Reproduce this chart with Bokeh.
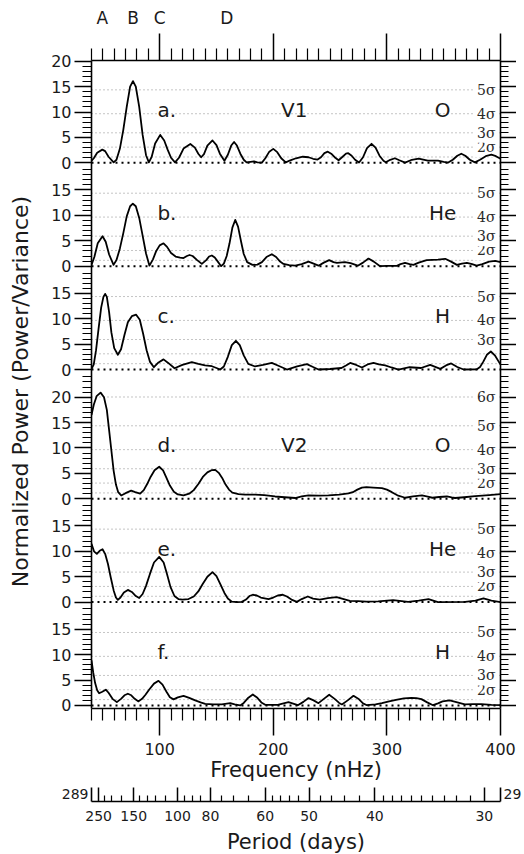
from bokeh.plotting import figure
from bokeh.layouts import column
from bokeh.models import Range1d, LinearAxis, FixedTicker
from bokeh.core.properties import value
from bokeh.embed import file_html
from bokeh.resources import INLINE

# ---------------- data (frequency in nHz, normalized power) ----------------
freq_a = [40, 42, 45, 49.5, 52, 55, 59.5, 62, 65, 68, 71, 74, 76.5, 79, 82, 85, 88, 90.5, 93, 96,
          100.5, 104, 107, 110, 113.5, 117, 121, 127, 131, 134, 136.5, 139, 142, 146.5, 150, 153,
          157, 160, 163, 165.5, 168, 171, 174, 176.5, 180, 183, 186, 190, 193, 196.5, 200, 203.5,
          207, 211, 215, 220, 226, 231, 235, 239, 242, 245, 248, 251, 254, 257.5, 261, 264, 266,
          269, 272, 275.5, 279, 282.5, 286.5, 290, 293.5, 297, 299, 303, 307, 311, 316, 322, 328,
          336, 345, 350, 354, 358, 362, 365.5, 369, 373, 377.5, 382, 387, 392, 396, 400]
power_a = [0.4, 0.9, 2.0, 2.6, 2.3, 1.2, 0.1, 0.6, 2.8, 6.5, 11.0, 15.0, 16.1, 15.0, 11.0, 5.5, 1.5,
           0.1, 1.2, 3.8, 5.5, 4.4, 2.6, 1.0, 0.1, 1.0, 2.8, 3.7, 3.0, 1.8, 1.1, 1.7, 3.4, 4.4,
           3.5, 1.8, 0.4, 1.6, 3.4, 4.1, 3.4, 1.8, 0.6, 0.1, 0.2, 0.3, 0.1, 0.05, 0.9, 2.2,
           2.75, 2.1, 0.9, 0.1, 0.5, 0.9, 1.2, 1.1, 0.8, 0.65, 1.1, 1.9, 2.2, 1.8, 1.1, 0.5,
           1.2, 1.8, 1.9, 1.4, 0.6, 0.05, 1.1, 2.9, 3.75, 3.0, 1.4, 0.4, 0.1, 0.6, 0.9, 0.5,
           0.05, 0.6, 0.85, 0.45, 0.45, 0.2, 0.05, 0.6, 1.4, 1.8, 1.4, 0.6, 0.1, 0.6, 1.3, 1.6,
           1.3, 0.8]

freq_b = [40, 42.5, 45.5, 49.7, 52.5, 55.5, 59.4, 62, 65, 68, 71, 74, 76.4, 79, 82, 85, 88, 91, 94,
          97, 100, 103.4, 106.5, 110, 114, 118, 121, 124, 126.3, 129, 133, 137.1, 141, 143.5,
          145.9, 148.5, 151.5, 154.1, 156.5, 159, 161.5, 164, 166.5, 169, 171.5, 174, 177, 181.7,
          186, 190, 194, 198.7, 202.5, 206, 209, 214, 219.3, 225, 231, 235.5, 239.8, 244.5, 249.2,
          253, 256, 263, 268, 274.4, 279, 283.8, 288.5, 294, 300, 308.8, 312, 316, 320, 323.4, 328,
          335, 345, 351.3, 356.5, 361.6, 366, 370.4, 375, 379, 384, 390, 395.3, 400]
power_b = [0.25, 1.8, 4.5, 5.9, 4.8, 2.3, 0.25, 1.2, 3.5, 6.5, 9.8, 11.8, 12.3, 11.8, 9.5, 6.0, 2.5,
           0.1, 1.3, 3.0, 4.1, 4.5, 3.8, 2.6, 1.9, 1.7, 1.6, 2.0, 2.2, 2.0, 1.2, 0.45, 1.2, 1.9,
           2.1, 1.7, 0.8, 0.0, 0.5, 2.0, 4.5, 7.6, 9.1, 7.8, 5.0, 2.4, 0.8, 0.25,
           0.3, 0.8, 1.8, 2.35, 1.8, 0.9, 0.45, 0.2, 0.1, 0.4, 0.9, 0.5, 0.1, 0.7, 1.2,
           0.8, 0.65, 0.8, 0.6, 0.1, 0.7, 1.5, 0.9, 0.0, 0.05, 0.05, 0.4, 0.65, 0.4, 0.25, 0.7,
           1.2, 1.3, 1.45, 0.9, 0.25, 0.5, 0.65, 0.4, 0.1, 0.4, 0.9, 1.05, 0.8]

freq_c = [40, 42, 44, 46.2, 48.5, 50.5, 52, 53.5, 55.5, 57.5, 60, 63.2, 66, 69, 72, 75.5, 79.3,
          82.5, 85.5, 88.5, 91.5, 94.9, 99, 103.4, 107.5, 113.1, 120, 128.3, 134, 140, 146, 150,
          153.3, 156.5, 160, 163.5, 167.1, 170.5, 174, 178, 184, 191, 198.7, 205, 212, 221, 229.6,
          235, 239.8, 250, 260, 264, 267.7, 273, 278, 283, 288.2, 293, 298.5, 304, 310.2, 320, 330,
          338.1, 347, 352, 356.6, 362, 367.5, 379.2, 382, 385, 388, 391.5, 395, 398, 400]
power_c = [0.1, 1.0, 3.8, 8.0, 12.2, 14.3, 14.9, 14.3, 11.3, 7.3, 4.2, 2.9, 4.0, 6.8, 9.3, 10.5, 10.8,
           9.8, 7.0, 3.8, 1.5, 0.45, 1.4, 2.0, 1.3, 0.25, 0.9, 1.45, 1.1, 0.8, 0.65, 0.3,
           0.0, 0.6, 2.5, 4.8, 5.65, 4.8, 2.8, 1.1, 0.6, 0.9, 1.3, 0.7, 0.0, 0.6, 1.05,
           0.5, 0.0, 0.1, 0.3, 0.8, 1.3, 0.9, 0.4, 1.0, 1.3, 1.0, 0.8, 0.4, 0.0, 0.45, 0.3,
           0.9, 0.13, 0.8, 1.2, 0.5, 0.0, 0.05, 0.5, 1.6, 2.9, 3.55, 2.8, 1.7, 1.0]

freq_d = [40, 42, 44.5, 48, 51, 53.5, 55.5, 57.5, 59.5, 61.5, 63.5, 66.1, 70, 74.9, 78.5, 82.8, 86,
          89, 92, 95.5, 99.6, 103, 106, 109, 112.5, 116, 121, 126, 130, 134.2, 138, 142, 146, 148.9,
          152, 155, 158, 161, 164, 169.4, 175, 184, 192, 201.6, 210, 219.3, 225, 231, 240, 248.6,
          258, 266.2, 270, 274, 278, 282, 288, 295.6, 300, 304.4, 310, 316.1, 323, 330.8, 336, 340,
          346, 352.8, 357, 360, 368, 377.7, 390, 400]
power_d = [16.5, 18.5, 20.2, 20.9, 20.0, 17.5, 13.5, 9.5, 5.5, 2.8, 1.3, 0.65, 1.1, 1.6, 1.3, 1.0,
           1.7, 2.9, 4.3, 5.6, 6.3, 5.6, 4.1, 2.6, 1.4, 0.85, 0.65, 1.0, 1.7, 2.95, 4.3, 5.2,
           5.65, 5.7, 5.1, 4.1, 2.8, 1.8, 1.2, 0.9, 0.8, 0.8, 0.7, 0.45, 0.3, 0.15, 0.45, 0.65,
           0.6, 0.65, 0.8, 1.05, 1.3, 1.8, 2.2, 2.3, 2.2, 2.1, 1.8, 1.3, 0.6, 0.2, 0.45, 0.65,
           0.4, 0.2, 0.35, 0.45, 0.25, 0.15, 0.3, 0.5, 0.7, 0.9]

freq_e = [40, 42.2, 44.7, 47.2, 49.7, 52, 54.5, 57, 59.5, 61.5, 63.2, 65.5, 68.5, 72, 75.5, 79, 82,
          85, 88, 91.5, 95, 99.6, 103.5, 106.5, 109.5, 113, 116.5, 120, 125.4, 130, 134, 138, 142,
          146.5, 150, 153.5, 157, 160, 163.5, 168, 172.3, 176, 179, 182, 185.5, 189, 195.8, 200,
          204, 208.4, 212, 216, 220.8, 225, 230.4, 235, 241, 248, 255.8, 262, 267.4, 274.7, 282,
          292.3, 305.5, 318.7, 328, 336.6, 345, 368.9, 378, 385, 392, 400]
power_e = [11.5, 10.0, 9.5, 10.1, 10.4, 9.5, 7.5, 4.8, 2.3, 0.9, 0.45, 0.9, 1.9, 2.4, 2.0, 1.2, 0.8,
           1.6, 3.2, 5.6, 7.8, 8.9, 7.8, 5.5, 3.0, 1.2, 0.6, 0.5, 0.6, 1.1, 2.1, 3.6, 5.0,
           5.9, 5.1, 3.5, 1.8, 0.7, 0.1, 0.0, 0.05, 0.5, 1.2, 1.45, 1.3, 0.9, 0.6, 0.9,
           1.3, 1.45, 1.1, 0.5, 0.05, 0.6, 1.1, 0.7, 0.5, 0.8, 1.0, 0.6, 0.25, 0.2, 0.1,
           0.15, 0.4, 0.05, 0.3, 0.6, 0.0, 0.05, 0.3, 0.75, 0.3, 0.0]

freq_f = [40, 41.5, 43.2, 45, 46.7, 49.5, 52.6, 55, 58.5, 62.3, 66, 69, 72, 75, 78, 81.4, 84.5, 87.5,
          91, 95, 99, 102.5, 106, 109, 112.2, 116, 121, 126, 131.3, 136, 140.1, 147, 154.7, 162.1,
          166, 170.9, 174, 177.5, 182, 186, 189.5, 192.9, 204, 209, 213.4, 217.5, 221.6, 226.5,
          231, 235.5, 239.8, 244.5, 249.2, 254, 258, 260.4, 265.5, 270.6, 275.5, 279, 282.4, 290,
          295.6, 302, 308, 315, 321.6, 326, 330.4, 335.5, 340.6, 345, 349, 355.3, 362, 368.6,
          376, 383.2, 392, 400]
power_f = [8.9, 6.5, 4.4, 3.0, 2.4, 2.7, 3.1, 2.5, 1.3, 0.65, 1.3, 2.0, 2.3, 2.0, 1.3, 0.8, 1.3, 2.1,
           3.2, 4.3, 4.85, 4.1, 2.7, 1.6, 1.2, 1.6, 1.9, 1.5, 1.0, 0.6, 0.33, 0.2, 0.2, 0.45,
           0.2, 0.0, 0.5, 1.4, 2.15, 1.5, 0.6, 0.13, 0.1, 0.4, 0.65, 0.35, 0.05, 0.7,
           1.45, 1.0, 0.45, 1.3, 2.1, 1.3, 0.5, 0.2, 1.0, 1.9, 1.2, 0.4, 0.05, 0.2,
           0.45, 0.8, 1.1, 1.4, 1.5, 1.45, 1.25, 0.6, 0.05, 0.4, 0.8, 1.0, 0.6, 0.2,
           0.25, 0.25, 0.1, 0.05]

panel_freqs = [freq_a, freq_b, freq_c, freq_d, freq_e, freq_f]
panel_powers = [power_a, power_b, power_c, power_d, power_e, power_f]
panel_letters = ["a.", "b.", "c.", "d.", "e.", "f."]
panel_series = ["V1", "", "", "V2", "", ""]
panel_species = ["O", "He", "H", "O", "He", "H"]
panel_top_label = [20, 15, 15, 20, 15, 15]

# significance levels (normalized power) and their names
sigma_levels = [1.15, 3.09, 5.91, 9.67, 14.37, 20.04]
sigma_names = ["", "2σ", "3σ", "4σ", "5σ", "6σ"]
panel_sigma_count = [5, 5, 5, 6, 5, 5]
panel_sigma_labelled = [["2σ", "3σ", "4σ", "5σ"], ["2σ", "3σ", "4σ", "5σ"], ["3σ", "4σ", "5σ"],
                        ["2σ", "3σ", "4σ", "5σ", "6σ"], ["2σ", "3σ", "4σ", "5σ"],
                        ["2σ", "3σ", "4σ", "5σ"]]

power_major = [0, 5, 10, 15, 20]
freq_major = [100, 200, 300, 400]
freq_minor = [40, 50, 60, 70, 80, 90, 110, 120, 130, 140, 150, 160, 170, 180, 190, 210, 220, 230,
              240, 250, 260, 270, 280, 290, 310, 320, 330, 340, 350, 360, 370, 380, 390]
marker_freqs = [49.5, 76.5, 100, 159]
marker_names = ["A", "B", "C", "D"]
period_major = [250, 150, 100, 80, 60, 50, 40, 30]
period_minor = [225, 200, 175, 140, 130, 120, 110, 95, 90, 85, 75, 70, 65, 58, 56, 54, 52,
                48, 46, 44, 42, 39, 38, 37, 36, 35, 34, 33, 32, 31]
period_left, period_right = "289", "29"

for fr, pw in zip(panel_freqs, panel_powers):
    assert len(fr) == len(pw), (len(fr), len(pw))

# ---------------- layout of stacked panels (in power units) ----------------
bottom_pad = 0.6
zero_gaps = [20.35, 20.35, 25.45, 20.35, 20.35]   # a->b, b->c, c->d, d->e, e->f
top_pad = 20.15
zeros = [0.0] * 6
zeros[5] = bottom_pad
for k in range(4, -1, -1):
    zeros[k] = zeros[k + 1] + zero_gaps[k]
y_top = zeros[0] + top_pad

FONT = "DejaVu Sans"
INK = "#1a1a1a"

p = figure(frame_width=409, frame_height=648, x_range=Range1d(40, 400), y_range=Range1d(0, y_top),
           x_axis_location=None, y_axis_location=None, toolbar_location=None,
           output_backend="svg", min_border_left=91, min_border_right=16, min_border_top=60,
           min_border_bottom=79, outline_line_color=None, background_fill_color="white",
           border_fill_color="white")
p.grid.visible = False


def style_axis(ax, major_out, minor_out, size):
    ax.axis_line_width = 1.6
    ax.axis_line_color = "black"
    ax.major_tick_line_width = 1.5
    ax.minor_tick_line_width = 1.2
    ax.major_tick_out = major_out
    ax.major_tick_in = 0
    ax.minor_tick_out = minor_out
    ax.minor_tick_in = 0
    ax.major_label_text_font = FONT
    ax.major_label_text_font_size = size
    ax.major_label_text_color = INK
    ax.axis_label_text_font = FONT
    ax.axis_label_text_font_style = "normal"
    ax.axis_label_text_color = INK


def hide_labels(ax):
    ax.major_label_text_font_size = "1px"
    ax.major_label_text_color = None
    ax.major_label_text_alpha = 0
    ax.major_label_standoff = 0


# y ticks for every panel
y_majors, y_minors, y_over = [], [], {}
for k in range(6):
    top = panel_top_label[k]
    for v in power_major:
        if v <= top:
            t = round(zeros[k] + v, 4)
            y_majors.append(t)
            y_over[t] = str(v)
    limit = 24 if k == 3 else 19
    for v in range(1, limit + 1):
        if v not in power_major:
            y_minors.append(round(zeros[k] + v, 4))

left = LinearAxis(ticker=FixedTicker(ticks=y_majors, minor_ticks=y_minors),
                  major_label_overrides=y_over,
                  axis_label="Normalized  Power  (Power/Variance)")
style_axis(left, 17, 9, "16px")
left.major_label_standoff = 3
left.axis_label_standoff = 15
left.axis_label_text_font_size = "22px"
p.add_layout(left, "left")

right = LinearAxis(ticker=FixedTicker(ticks=y_majors, minor_ticks=y_minors))
style_axis(right, 16, 8, "16px")
hide_labels(right)
p.add_layout(right, "right")

top_ax = LinearAxis(ticker=FixedTicker(ticks=freq_major, minor_ticks=freq_minor))
style_axis(top_ax, 27, 12, "16px")
hide_labels(top_ax)
p.add_layout(top_ax, "above")

letters_ax = LinearAxis(ticker=FixedTicker(ticks=marker_freqs, minor_ticks=[]),
                        major_label_overrides={f: n for f, n in zip(marker_freqs, marker_names)})
style_axis(letters_ax, 0, 0, "17px")
letters_ax.axis_line_color = None
letters_ax.major_tick_line_color = None
letters_ax.major_label_standoff = 6
p.add_layout(letters_ax, "above")

bottom = LinearAxis(ticker=FixedTicker(ticks=freq_major, minor_ticks=freq_minor),
                    axis_label="Frequency (nHz)")
style_axis(bottom, 27, 12, "16px")
bottom.major_label_standoff = 7
bottom.axis_label_standoff = 0
bottom.axis_label_text_font_size = "21px"
p.add_layout(bottom, "below")

# sigma reference lines and zero lines
for k in range(6):
    for i in range(panel_sigma_count[k]):
        yv = zeros[k] + sigma_levels[i]
        p.line([40, 400], [yv, yv], line_color="#8a8a8a", line_width=1, line_dash="1 3")
    p.line([40, 400], [zeros[k], zeros[k]], line_color="black", line_width=2, line_dash="2 4")

# sigma labels
for k in range(6):
    ys, ts = [], []
    for i in range(panel_sigma_count[k]):
        if sigma_names[i] in panel_sigma_labelled[k]:
            ys.append(zeros[k] + sigma_levels[i])
            ts.append(sigma_names[i])
    p.text(x=[400] * len(ys), y=ys, text=ts, x_offset=-3, text_align="right",
           text_baseline="middle", text_font=value("DejaVu Serif"), text_font_size="14px",
           text_color="#2a2a2a", background_fill_color="white", padding=2)

# panel annotations
lab_level = 10.5


def panel_text(xpos, labels, align):
    xs, ys, ts = [], [], []
    for k, t in enumerate(labels):
        if t:
            xs.append(xpos)
            ys.append(zeros[k] + lab_level)
            ts.append(t)
    p.text(x=xs, y=ys, text=ts, text_align=align, text_baseline="alphabetic",
           text_font=value(FONT), text_font_size="20px", text_color=INK)


panel_text(98, panel_letters, "left")
panel_text(218.5, panel_series, "center")
panel_text(349, panel_species, "center")

# spectra
for k in range(6):
    p.line(panel_freqs[k], [zeros[k] + v for v in panel_powers[k]], line_color="black",
           line_width=1.8, line_join="round")

# ---------------- period axis ----------------
DAY = 86400.0


def to_freq(per):
    return round(1e9 / (per * DAY), 4)


q = figure(frame_width=409, frame_height=14, x_range=Range1d(40, 400), y_range=Range1d(0, 1),
           x_axis_location=None, y_axis_location=None, toolbar_location=None,
           output_backend="svg", min_border_left=91, min_border_right=24, min_border_top=0,
           min_border_bottom=53, outline_line_color=None, background_fill_color="white",
           border_fill_color="white")
q.grid.visible = False

pmaj = [to_freq(v) for v in period_major]
pmin = [to_freq(v) for v in period_minor]
per_ax = LinearAxis(ticker=FixedTicker(ticks=pmaj, minor_ticks=pmin),
                    major_label_overrides={f: str(v) for f, v in zip(pmaj, period_major)},
                    axis_label="Period (days)")
style_axis(per_ax, 0, 0, "14px")
per_ax.major_tick_in = 14
per_ax.minor_tick_in = 6
per_ax.major_label_standoff = 9
per_ax.axis_label_standoff = 6
per_ax.axis_label_text_font_size = "21px"
q.add_layout(per_ax, "below")

pl = LinearAxis(ticker=FixedTicker(ticks=[0.55], minor_ticks=[]),
                major_label_overrides={0.55: period_left})
style_axis(pl, 0, 0, "14px")
pl.major_label_standoff = 3
q.add_layout(pl, "left")
pr = LinearAxis(ticker=FixedTicker(ticks=[0.55], minor_ticks=[]),
                major_label_overrides={0.55: period_right})
style_axis(pr, 0, 0, "14px")
pr.major_label_standoff = 3
q.add_layout(pr, "right")

layout = column(p, q, spacing=0)
open("out.html", "w").write(file_html(layout, INLINE))
